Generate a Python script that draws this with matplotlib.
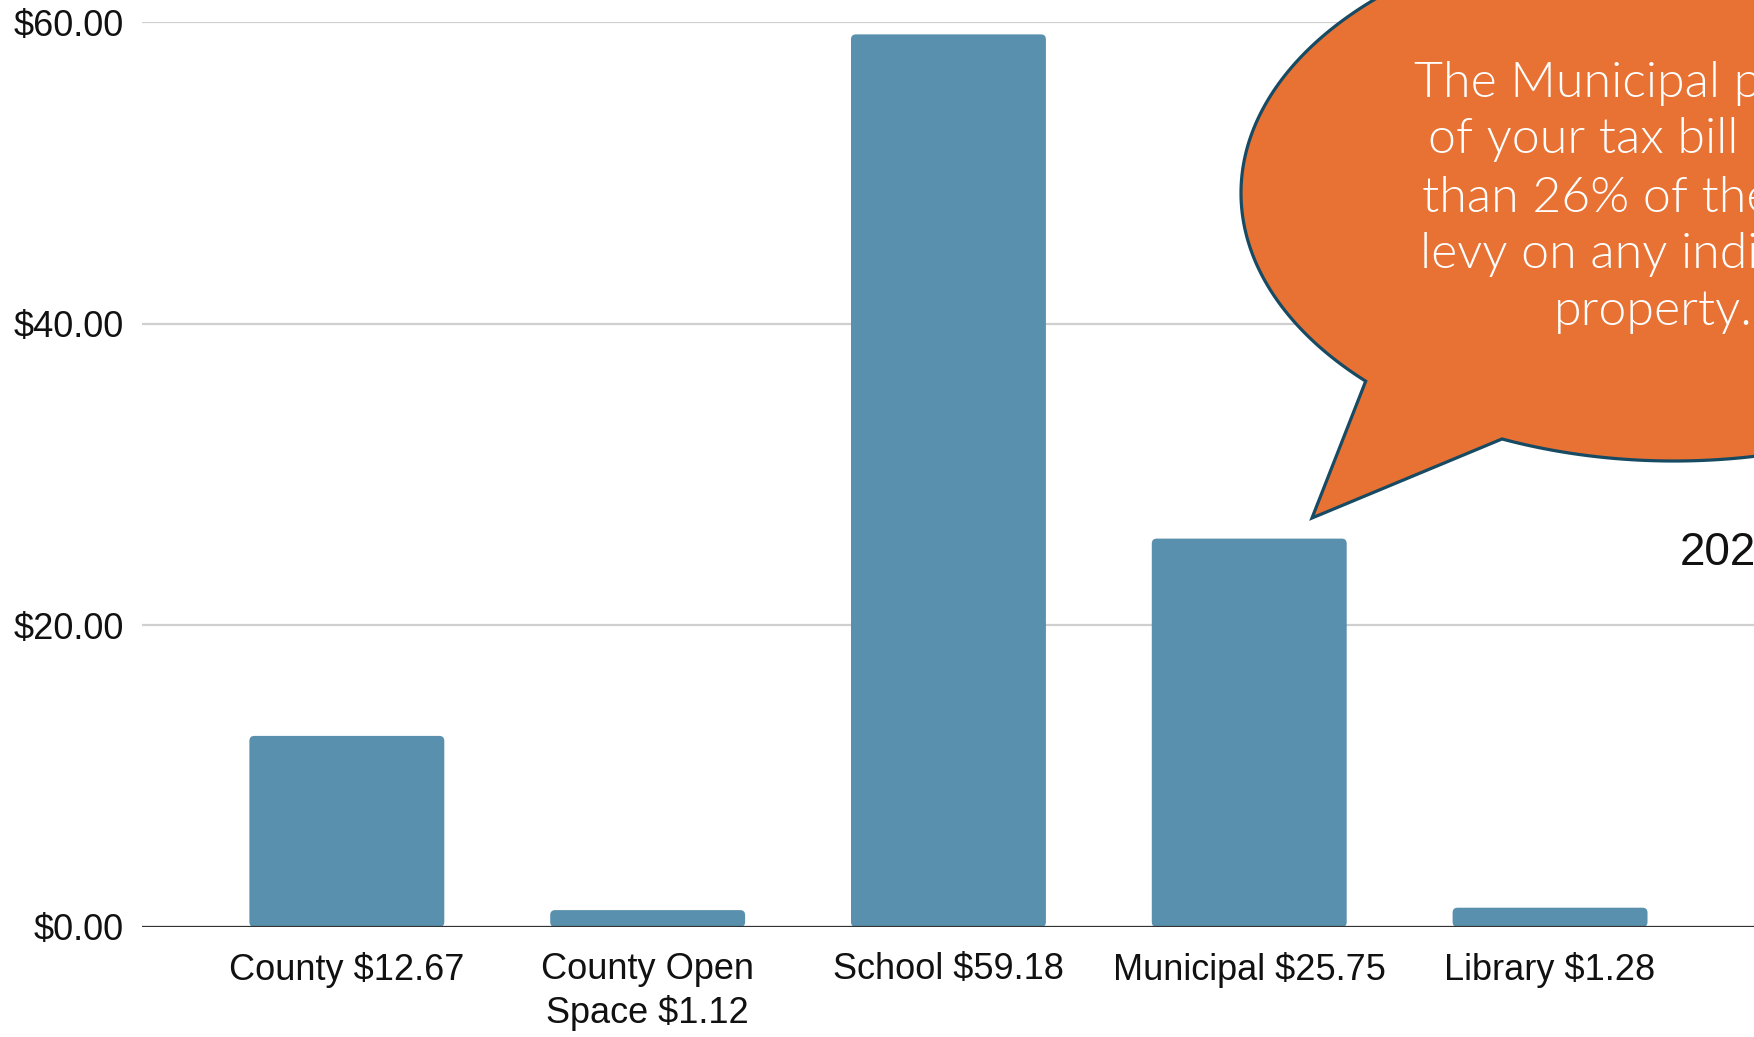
import numpy as np
import matplotlib
matplotlib.use("Agg")
import matplotlib.pyplot as plt
from matplotlib.path import Path
from matplotlib.patches import PathPatch, FancyBboxPatch

categories = ["County $12.67", "County Open\nSpace $1.12", "School $59.18",
              "Municipal $25.75", "Library $1.28"]
values = [12.67, 1.12, 59.18, 25.75, 1.28]
yticks = [0, 20, 40, 60]
ytick_labels = ["$0.00", "$20.00", "$40.00", "$60.00"]
callout_lines = ["The Municipal portion", "of your tax bill is less",
                 "than 26% of the total", "levy on any individual", "property."]
title_text = "2023"

W, H = 1754, 1037
DPI = 100
fig = plt.figure(figsize=(W / DPI, H / DPI), dpi=DPI)
ax = fig.add_axes([142 / W, 1 - 927 / H, 1 - 142 / W, (927 - 22) / H])

x = np.arange(len(categories))
bars = ax.bar(x, values, width=0.648, color="#5990ad", zorder=2)
ax.set_xlim(-0.681, 4.678)
ax.set_ylim(0, 60)

# rounded tops like the reference
px_per_x = (W - 142) / (4.678 + 0.681)
px_per_y = (927 - 22) / 60
for r in bars:
    r.set_visible(False)
    fb = FancyBboxPatch((r.get_x(), r.get_y()), r.get_width(), r.get_height(),
                        boxstyle="round,pad=0,rounding_size=%f" % (5 / px_per_x),
                        mutation_aspect=px_per_x / px_per_y,
                        facecolor="#5990ad", edgecolor="none", zorder=2)
    ax.add_patch(fb)

ax.set_yticks(yticks)
ax.set_yticklabels(ytick_labels)
ax.set_xticks(x)
ax.set_xticklabels(categories, linespacing=1.3)
for s in ax.spines.values():
    s.set_visible(False)
ax.axhline(0, color="#333333", lw=2.3, zorder=3)
ax.yaxis.grid(True, color="#cfcfcf", lw=1.6, zorder=0)
ax.set_axisbelow(True)
ax.tick_params(axis="both", length=0, labelsize=26, colors="#111111")
ax.tick_params(axis="y", pad=13)
ax.tick_params(axis="x", pad=18)
for lab in ax.get_xticklabels() + ax.get_yticklabels():
    lab.set_fontfamily("Liberation Sans")

# speech bubble callout (pixel coords, y measured from top)
cx, cy, a, b = 1674, 193, 433, 268
th2 = np.deg2rad(113.4)
th1 = np.deg2rad(135.4 - 360)
ts = np.linspace(th2, th1, 400)
px = cx + a * np.cos(ts)
py = cy + b * np.sin(ts)
pts = list(zip(px, py)) + [(1312, 518), (px[0], py[0])]
verts = [(u / W, 1 - v / H) for u, v in pts]
codes = [Path.MOVETO] + [Path.LINETO] * (len(verts) - 2) + [Path.CLOSEPOLY]
bubble = PathPatch(Path(verts, codes), facecolor="#e87234", edgecolor="#174a63",
                   lw=2.3, joinstyle="miter", transform=fig.transFigure,
                   zorder=5, clip_on=False)
fig.add_artist(bubble)

baselines = [97, 153, 212, 268, 325]
for line, yb in zip(callout_lines, baselines):
    fig.text(1653 / W, 1 - yb / H, line, ha="center", va="baseline",
             color="white", fontsize=36, family="Lato", fontweight=300,
             zorder=6)

fig.text(1680 / W, 1 - 565 / H, title_text, ha="left", va="baseline",
         color="#111111", fontsize=33, family="Liberation Sans")

fig.savefig("out.png", dpi=DPI)
